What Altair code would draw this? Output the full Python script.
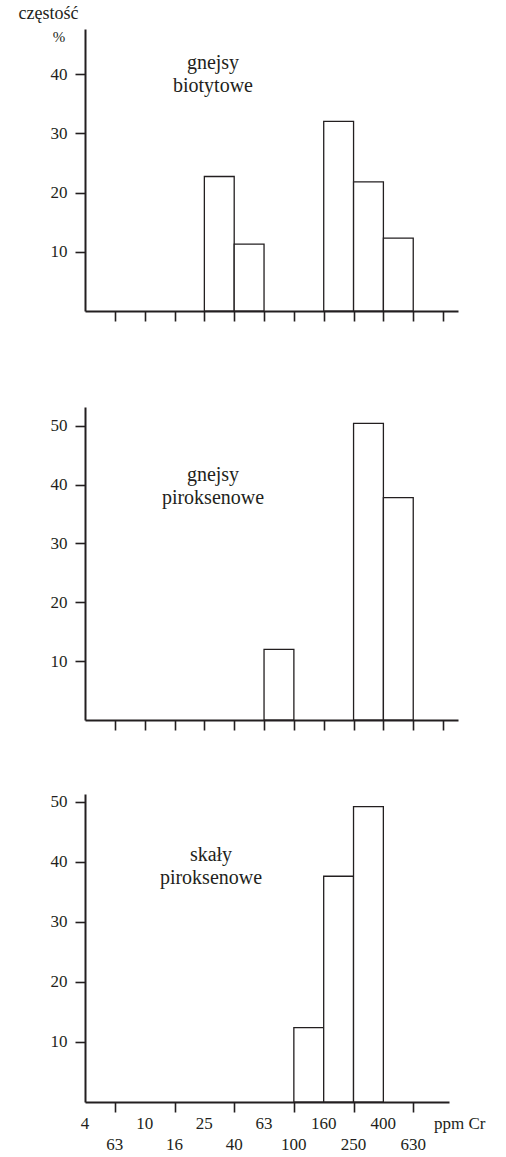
import altair as alt
import pandas as pd

FONT = "'Liberation Serif', 'Times New Roman', Times, serif"
INK = "#231f20"

# class position (lower boundary index on the log class scale) and frequency (%)
bio_bins = [4, 5, 8, 9, 10]
bio_freq = [22.7, 11.3, 32.0, 21.8, 12.3]
pirg_bins = [6, 9, 10]
pirg_freq = [12.0, 50.4, 37.8]
sk_bins = [7, 8, 9]
sk_freq = [12.4, 37.6, 49.2]

class_labels = ["4", "63", "10", "16", "25", "40", "63", "100", "160", "250", "400", "630"]
class_pos = list(range(12))
tick_pos = list(range(1, 13))

titles = ["gnejsy\nbiotytowe", "gnejsy\npiroksenowe", "skały\npiroksenowe"]


def panel(bins, freq, ymax, yticks, height, width, xmax, title, tx, ty):
    df = pd.DataFrame({"lo": bins, "hi": [b + 1 for b in bins], "f": freq, "z": [0] * len(bins)})
    xs = alt.Scale(domain=[0, xmax], nice=False, zero=False)
    ys = alt.Scale(domain=[0, ymax], nice=False, zero=True)
    bars = alt.Chart(df).mark_rect(fill="white", stroke=INK, strokeWidth=1.3).encode(
        x=alt.X("lo:Q", scale=xs, axis=alt.Axis(values=tick_pos, labels=False, title=None,
                                                 tickSize=10, tickWidth=1.6, tickColor=INK,
                                                 domainColor=INK, domainWidth=2, grid=False)),
        x2="hi:Q",
        y=alt.Y("f:Q", scale=ys, axis=alt.Axis(values=yticks, title=None, tickSize=10,
                                                tickWidth=1.6, tickColor=INK, domainColor=INK,
                                                domainWidth=2, grid=False, labelFont=FONT,
                                                labelFontSize=17, labelColor=INK, labelPadding=8)),
        y2="z:Q",
    )
    label = alt.Chart(pd.DataFrame({"t": [title]})).mark_text(
        font=FONT, fontSize=20, color=INK, align="center", baseline="alphabetic",
        lineBreak="\n", lineHeight=23,
    ).encode(text="t:N", x=alt.value(tx), y=alt.value(ty))
    return [bars, label], xs


# panel 1
l1, xs1 = panel(bio_bins, bio_freq, 47.6, [10, 20, 30, 40], 282, 373, 12.5, titles[0], 128, 39.5)
ylab = alt.Chart(pd.DataFrame({"t": ["częstość"]})).mark_text(
    font=FONT, fontSize=18, color=INK, align="center", baseline="alphabetic"
).encode(text="t:N", x=alt.value(-36.5), y=alt.value(-10.5))
pct = alt.Chart(pd.DataFrame({"t": ["%"]})).mark_text(
    font=FONT, fontSize=15, color=INK, align="center", baseline="alphabetic"
).encode(text="t:N", x=alt.value(-26), y=alt.value(12.5))
p1 = alt.layer(*l1, ylab, pct).properties(width=373, height=282)

# panel 2
l2, xs2 = panel(pirg_bins, pirg_freq, 53.2, [10, 20, 30, 40, 50], 313, 373, 12.5, titles[1], 128, 74)
p2 = alt.layer(*l2).properties(width=373, height=313)

# panel 3
H3 = 308
l3, xs3 = panel(sk_bins, sk_freq, 51.3, [10, 20, 30, 40, 50], H3, 364, 12.2, titles[2], 126, 66.7)
lab_df = pd.DataFrame({"pos": class_pos, "lab": class_labels, "row": [p % 2 for p in class_pos]})
row1 = alt.Chart(lab_df).transform_filter("datum.row == 0").mark_text(
    font=FONT, fontSize=17, color=INK, align="center", baseline="alphabetic"
).encode(x=alt.X("pos:Q", scale=xs3), y=alt.value(H3 + 27), text="lab:N")
row2 = alt.Chart(lab_df).transform_filter("datum.row == 1").mark_text(
    font=FONT, fontSize=17, color=INK, align="center", baseline="alphabetic"
).encode(x=alt.X("pos:Q", scale=xs3), y=alt.value(H3 + 48), text="lab:N")
unit = alt.Chart(pd.DataFrame({"t": ["ppm Cr"]})).mark_text(
    font=FONT, fontSize=17, color=INK, align="left", baseline="alphabetic"
).encode(text="t:N", x=alt.value(349), y=alt.value(H3 + 27))
p3 = alt.layer(*l3, row1, row2, unit).properties(width=364, height=H3)

top = alt.vconcat(p1, p2, spacing=85)
chart = alt.vconcat(top, p3, spacing=61).properties(
    padding={"left": 18, "top": 4, "right": 0, "bottom": 0},
    background="white",
).configure_view(stroke=None)

chart.save("out.html", embed_options={"renderer": "svg", "actions": False})
